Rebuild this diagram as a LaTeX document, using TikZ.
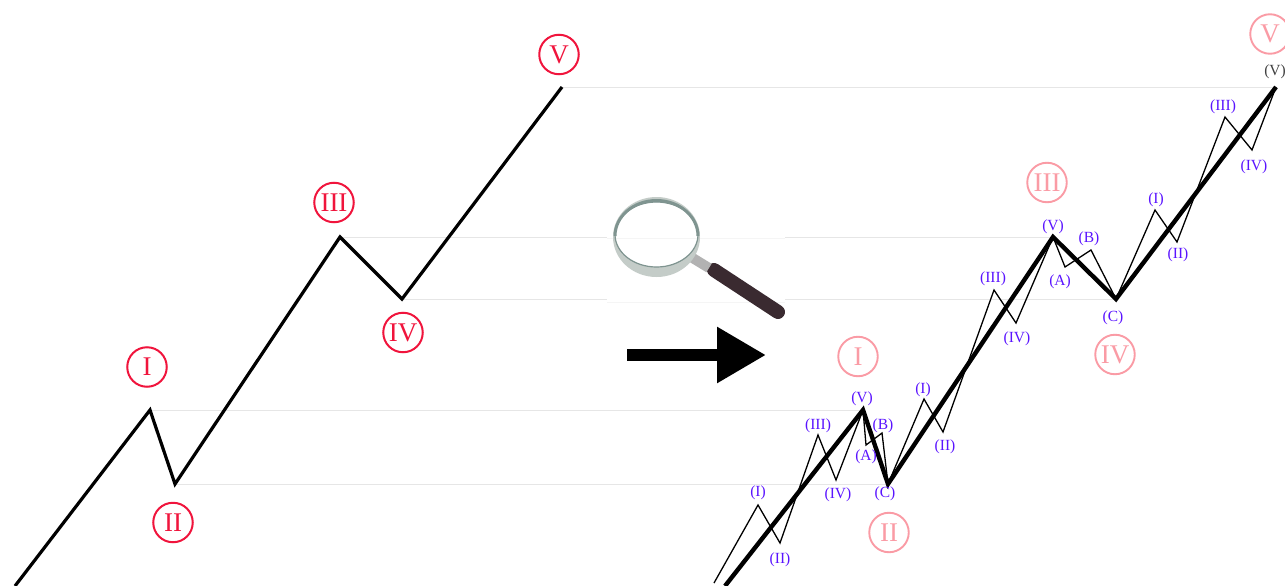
\documentclass[tikz,border=0pt]{standalone}
\usepackage{fontspec}
\setmainfont{Liberation Serif}
\usepackage{xcolor}
\usetikzlibrary{arrows.meta}
\definecolor{wavered}{HTML}{F0143C}
\definecolor{wavepink}{HTML}{FA9BA5}
\definecolor{subviolet}{HTML}{5A14FF}
\definecolor{levelgray}{HTML}{E6E6E6}
\definecolor{handlecol}{HTML}{3A2A30}
\definecolor{ringdark}{HTML}{7F9490}
\definecolor{ringlight}{HTML}{C4CCC8}
\begin{document}
\begin{tikzpicture}[x=1pt,y=-1pt]
\tikzstyle{every node}=[inner sep=0pt]
\tikzstyle{bigwave}=[circle,draw=wavered,text=wavered,line width=2pt,minimum width=39.5pt,font=\fontsize{27}{27}\selectfont]
\tikzstyle{pinkwave}=[circle,draw=wavepink,text=wavepink,line width=1.9pt,minimum width=39.5pt,font=\fontsize{27}{27}\selectfont]
\tikzstyle{sublab}=[text=subviolet,font=\fontsize{15.5}{16}\selectfont]
\tikzstyle{level}=[draw=levelgray,line width=0.9pt]
\useasboundingbox (0,0) rectangle (1285,586);
\clip (0,0) rectangle (1285,586);
% left wave
\coordinate (l0) at (15,586);
\coordinate (l1) at (150,410);
\coordinate (l2) at (175,484);
\coordinate (l3) at (340,237);
\coordinate (l4) at (402,299);
\coordinate (l5) at (562,87);
% right wave
\coordinate (r0) at (725,586);
\coordinate (r1) at (863,410);
\coordinate (r2) at (888,484);
\coordinate (r3) at (1053,237);
\coordinate (r4) at (1116,299);
\coordinate (r5) at (1276,87);
% levels
\foreach \i in {1,...,5}
  \draw[level] (l\i) -- (r\i);
% magnifier background
\fill[white] (607,190) rectangle (785,320);
\draw[draw=levelgray!40,line width=0.8pt] (607,238) -- (785,238) (607,302) -- (785,302);
% magnifier
\draw[line width=14pt,color=handlecol,line cap=round] (714,270) -- (778,312);
\draw[line width=10pt,color=gray!60] (691,257) -- (709,268);
\fill[ringlight,even odd rule] (656.5,237) ellipse[x radius=43.5,y radius=40] (656.5,234.5) ellipse[x radius=41.5,y radius=32.5];
\draw[line width=1.2pt,color=ringdark] (656.5,234.5) ellipse[x radius=41.5,y radius=32.5];
\draw[line width=3pt,color=ringdark] (615,236) arc[start angle=180,end angle=360,x radius=41.5,y radius=35.5];
% arrow
\coordinate (arrowtail) at (627,355);
\coordinate (arrowhead) at (766,355);
\draw[line width=12pt,-{Triangle[length=49pt,width=53pt]}] (arrowtail) -- (arrowhead);
% sub waves
\coordinate (s0) at (714,583);
\coordinate (s1) at (758,505);
\coordinate (s2) at (780,543);
\coordinate (s3) at (818,435);
\coordinate (s4) at (836,480);
\coordinate (s6) at (866,445);
\coordinate (s7) at (882,433);
\coordinate (s9) at (924,399);
\coordinate (s10) at (943,432);
\coordinate (s11) at (994,290);
\coordinate (s12) at (1016,323);
\coordinate (s14) at (1065,267);
\coordinate (s15) at (1091,250);
\coordinate (s17) at (1155,210);
\coordinate (s18) at (1177,242);
\coordinate (s19) at (1225,117);
\coordinate (s20) at (1252,150);
\draw[line width=1.3pt] (s0) -- (s1) -- (s2) -- (s3) -- (s4) -- (r1) -- (s6) -- (s7) -- (r2) -- (s9) -- (s10) -- (s11) -- (s12) -- (r3) -- (s14) -- (s15) -- (r4) -- (s17) -- (s18) -- (s19) -- (s20) -- (r5);
\draw[line width=3.2pt] (l0) -- (l1) -- (l2) -- (l3) -- (l4) -- (l5);
\draw[line width=4.4pt] (r0) -- (r1) -- (r2) -- (r3) -- (r4) -- (r5);
% red labels
\node[bigwave] (lI) at (147,367) {I};
\node[bigwave] (lII) at (173,522.5) {II};
\node[bigwave] (lIII) at (334,202.5) {III};
\node[bigwave] (lIV) at (403,332.5) {IV};
\node[bigwave] (lV) at (559,54.5) {V};
\node[pinkwave] (rI) at (858,356.5) {I};
\node[pinkwave] (rII) at (889,532.5) {II};
\node[pinkwave] (rIII) at (1047,182.5) {III};
\node[pinkwave] (rIV) at (1115,354.5) {IV};
\node[pinkwave] (rV) at (1270,34) {V};
% sub labels
\node[sublab] (a1) at (758,493) {(I)};
\node[sublab] (a2) at (780,560) {(II)};
\node[sublab] (a3) at (818,426) {(III)};
\node[sublab] (a4) at (838,495) {(IV)};
\node[sublab] (a5) at (862,399) {(V)};
\node[sublab] (a6) at (866,457) {(A)};
\node[sublab] (a7) at (883,426) {(B)};
\node[sublab] (a8) at (885,494) {(C)};
\node[sublab] (b1) at (923,390) {(I)};
\node[sublab] (b2) at (945,447) {(II)};
\node[sublab] (b3) at (993,279) {(III)};
\node[sublab] (b4) at (1017,339) {(IV)};
\node[sublab] (b5) at (1053,227) {(V)};
\node[sublab] (b6) at (1060,282) {(A)};
\node[sublab] (b7) at (1089,239) {(B)};
\node[sublab] (b8) at (1113,318) {(C)};
\node[sublab] (c1) at (1156,200) {(I)};
\node[sublab] (c2) at (1178,255) {(II)};
\node[sublab] (c3) at (1223,107) {(III)};
\node[sublab] (c4) at (1254,167) {(IV)};
\node[sublab,text=black!75] (c5) at (1275,72) {(V)};
\end{tikzpicture}
\end{document}
